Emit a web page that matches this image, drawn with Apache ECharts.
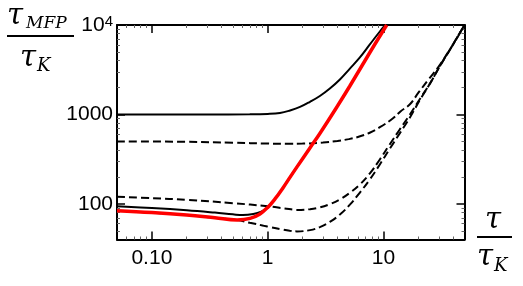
<!DOCTYPE html>
<html><head><meta charset="utf-8">
<script src="https://cdn.jsdelivr.net/npm/echarts@6/dist/echarts.min.js"></script>
<style>html,body{margin:0;padding:0;background:#fff}#c{width:523px;height:286px}</style>
</head><body><div id="c"></div>
<script>
// ---- tick definitions ----
const xMajorTicks = [0.1, 1, 10];
const xTickLabels = ['0.10', '1', '10'];
const xMinorTicks = [0.06,0.07,0.08,0.09,0.2,0.3,0.4,0.5,0.6,0.7,0.8,0.9,2,3,4,5,6,7,8,9,20,30,40];
const yMajorTicks = [100, 1000, 10000];
const yTickLabels = ['100', '1000', '10^4'];
const yMinorTicks = [50,60,70,80,90,200,300,400,500,600,700,800,900,2000,3000,4000,5000,6000,7000,8000,9000];

// ---- series data ----
const upperSolidX = [0.05, 0.3, 0.7, 1, 1.276, 1.557, 1.9, 2.32, 2.82, 3.44, 4.2, 5.12, 6.25, 7.62, 9.29, 10.35];
const upperSolidY = [1000, 1000, 1003, 1013, 1039, 1108, 1213, 1385, 1609, 1951, 2464, 3258, 4337, 6063, 8460, 10000];

const lowerSolidX = [0.05, 0.1, 0.2, 0.35, 0.5, 0.61, 0.75, 0.88, 1, 1.156, 1.363, 1.556, 1.778, 2.315, 2.82, 3.93, 5.12, 7.62, 10.65];
const lowerSolidY = [94, 90, 85, 80, 76.5, 75, 77, 82, 91.4, 114, 153, 198, 256, 422, 613, 1197, 2081, 4929, 10000];

const dashedHighX = [0.05, 0.2, 0.5, 1, 1.5, 2, 3, 4, 5, 6, 7.6, 9.3, 12, 14, 16.9, 20, 25, 30, 38, 44, 50];
const dashedHighY = [500, 495, 483, 473, 470, 472, 485, 505, 530, 560, 625, 720, 900, 1080, 1300, 1750, 2550, 3450, 5500, 7500, 10000];

const dashedMidX = [0.05, 0.1, 0.2, 0.5, 1, 1.4, 1.79, 2.32, 2.82, 3.44, 4.2, 5.12, 6.25, 7.62, 9.29, 11.3, 13.8, 16.9, 20.6, 25.2, 30.7, 37.5, 50];
const dashedMidY = [120, 116, 111, 102, 94, 89, 85.7, 87.3, 91.4, 99.3, 112, 133, 165, 219, 314, 462, 680, 1000, 1489, 2218, 3483, 5323, 10000];

const dashedLowX = [0.05, 0.1, 0.2, 0.35, 0.544, 0.7, 0.9, 1.05, 1.3, 1.55, 1.79, 2.32, 2.82, 3.44, 4.2, 5.12, 6.25, 7.62, 9.29, 11.3, 13.8, 16.9, 20.6, 25.2, 30.7, 37.5, 50];
const dashedLowY = [84, 80, 75, 70, 66, 61.5, 57.5, 55, 52, 50, 49.3, 50.9, 55, 63, 76, 98, 134, 188, 276, 412, 614, 925, 1452, 2218, 3483, 5323, 10000];

const redX = [0.05, 0.1, 0.2, 0.35, 0.544, 0.704, 0.858, 1, 1.156, 1.363, 1.556, 1.778, 2.315, 2.82, 3.93, 5.12, 7.62, 10.65];
const redY = [84, 80, 75, 70, 66.2, 68.8, 77.3, 91.4, 113.7, 153, 198, 256, 422, 613, 1197, 2081, 4929, 10000];

const zip = (xs, ys) => xs.map((x, i) => [x, ys[i]]);

const chart = echarts.init(document.getElementById('c'), null, {renderer: 'canvas'});
const labelFont = 'Liberation Sans';
const black = '#000';

function findIdx(list, v) {
  return list.findIndex(t => Math.abs(Math.log10(t) - Math.log10(v)) < 1e-6);
}

function xAx(pos, major) {
  return {
    type: 'log', logBase: 10, min: 0.05, max: 50, position: pos, gridIndex: 0,
    axisLine: {show: major, lineStyle: {color: black, width: 2}},
    axisTick: {show: true, inside: true, length: major ? 8 : 3, customValues: major ? xMajorTicks : xMinorTicks,
      lineStyle: {color: major ? black : '#666', width: major ? 1.5 : 1}},
    axisLabel: {show: major && pos === 'bottom', customValues: xMajorTicks, margin: 8,
      fontFamily: labelFont, fontSize: 21, color: black,
      formatter: v => { const i = findIdx(xMajorTicks, v); return i >= 0 ? xTickLabels[i] : ''; }},
    splitLine: {show: false}, minorTick: {show: false}
  };
}
function yAx(pos, major) {
  return {
    type: 'log', logBase: 10, min: 40, max: 10000, position: pos, gridIndex: 0,
    axisLine: {show: major, lineStyle: {color: black, width: 2}},
    axisTick: {show: true, inside: true, length: major ? 8 : 3, customValues: major ? yMajorTicks : yMinorTicks,
      lineStyle: {color: major ? black : '#666', width: major ? 1.5 : 1}},
    axisLabel: {show: major && pos === 'left', customValues: yMajorTicks, margin: 4,
      fontFamily: labelFont, fontSize: 21, color: black,
      formatter: v => {
        const i = findIdx(yMajorTicks, v);
        if (i < 0) return '';
        const s = yTickLabels[i];
        if (s.indexOf('^') >= 0) { const p = s.split('^'); return '{b|' + p[0] + '}{s|' + p[1] + '}'; }
        return s;
      },
      rich: {
        b: {fontFamily: labelFont, fontSize: 21, color: black, verticalAlign: 'bottom', lineHeight: 21},
        s: {fontFamily: labelFont, fontSize: 15, color: black, verticalAlign: 'top', lineHeight: 15, padding: [0, 0, 12, 0]}
      }},
    splitLine: {show: false}, minorTick: {show: false}
  };
}

function line(name, xs, ys, color, width, dashed, z) {
  return {
    type: 'line', name, data: zip(xs, ys), xAxisIndex: 0, yAxisIndex: 0,
    showSymbol: false, symbol: 'none', smooth: 0.4, z,
    lineStyle: {color, width, type: dashed ? [8, 4] : 'solid'},
    emphasis: {disabled: true}
  };
}

const titleFont = 'DejaVu Serif';
const option = {
  animation: false,
  backgroundColor: '#fff',
  grid: {left: 117, right: 58.5, top: 25, bottom: 46.5, show: false},
  xAxis: [xAx('bottom', true), xAx('bottom', false), xAx('top', true), xAx('top', false)],
  yAxis: [yAx('left', true), yAx('left', false), yAx('right', true), yAx('right', false)],
  series: [
    line('upperSolid', upperSolidX, upperSolidY, black, 2, false, 2),
    line('lowerSolid', lowerSolidX, lowerSolidY, black, 2, false, 2),
    line('dashedHigh', dashedHighX, dashedHighY, black, 2, true, 2),
    line('dashedMid', dashedMidX, dashedMidY, black, 2, true, 2),
    line('dashedLow', dashedLowX, dashedLowY, black, 2, true, 2),
    line('red', redX, redY, '#ff0000', 3.5, false, 3)
  ],
  graphic: [
    // y-axis title: tau_MFP / tau_K
    {type: 'text', left: 7, top: 2, style: {text: 'τ', font: 'italic 29px "' + titleFont + '"', fill: black}},
    {type: 'text', left: 26, top: 15, style: {text: 'MFP', font: 'italic 17px "' + titleFont + '"', fill: black}},
    {type: 'line', shape: {x1: 7, y1: 36, x2: 74, y2: 36}, style: {stroke: black, lineWidth: 2}},
    {type: 'text', left: 20, top: 44, style: {text: 'τ', font: 'italic 29px "' + titleFont + '"', fill: black}},
    {type: 'text', left: 37, top: 57, style: {text: 'K', font: 'italic 18px "' + titleFont + '"', fill: black}},
    // x-axis title: tau / tau_K
    {type: 'text', left: 485, top: 206, style: {text: 'τ', font: 'italic 29px "' + titleFont + '"', fill: black}},
    {type: 'line', shape: {x1: 477, y1: 237, x2: 512, y2: 237}, style: {stroke: black, lineWidth: 2}},
    {type: 'text', left: 477, top: 243, style: {text: 'τ', font: 'italic 29px "' + titleFont + '"', fill: black}},
    {type: 'text', left: 494, top: 257, style: {text: 'K', font: 'italic 18px "' + titleFont + '"', fill: black}}
  ]
};
chart.setOption(option);
</script></body></html>
